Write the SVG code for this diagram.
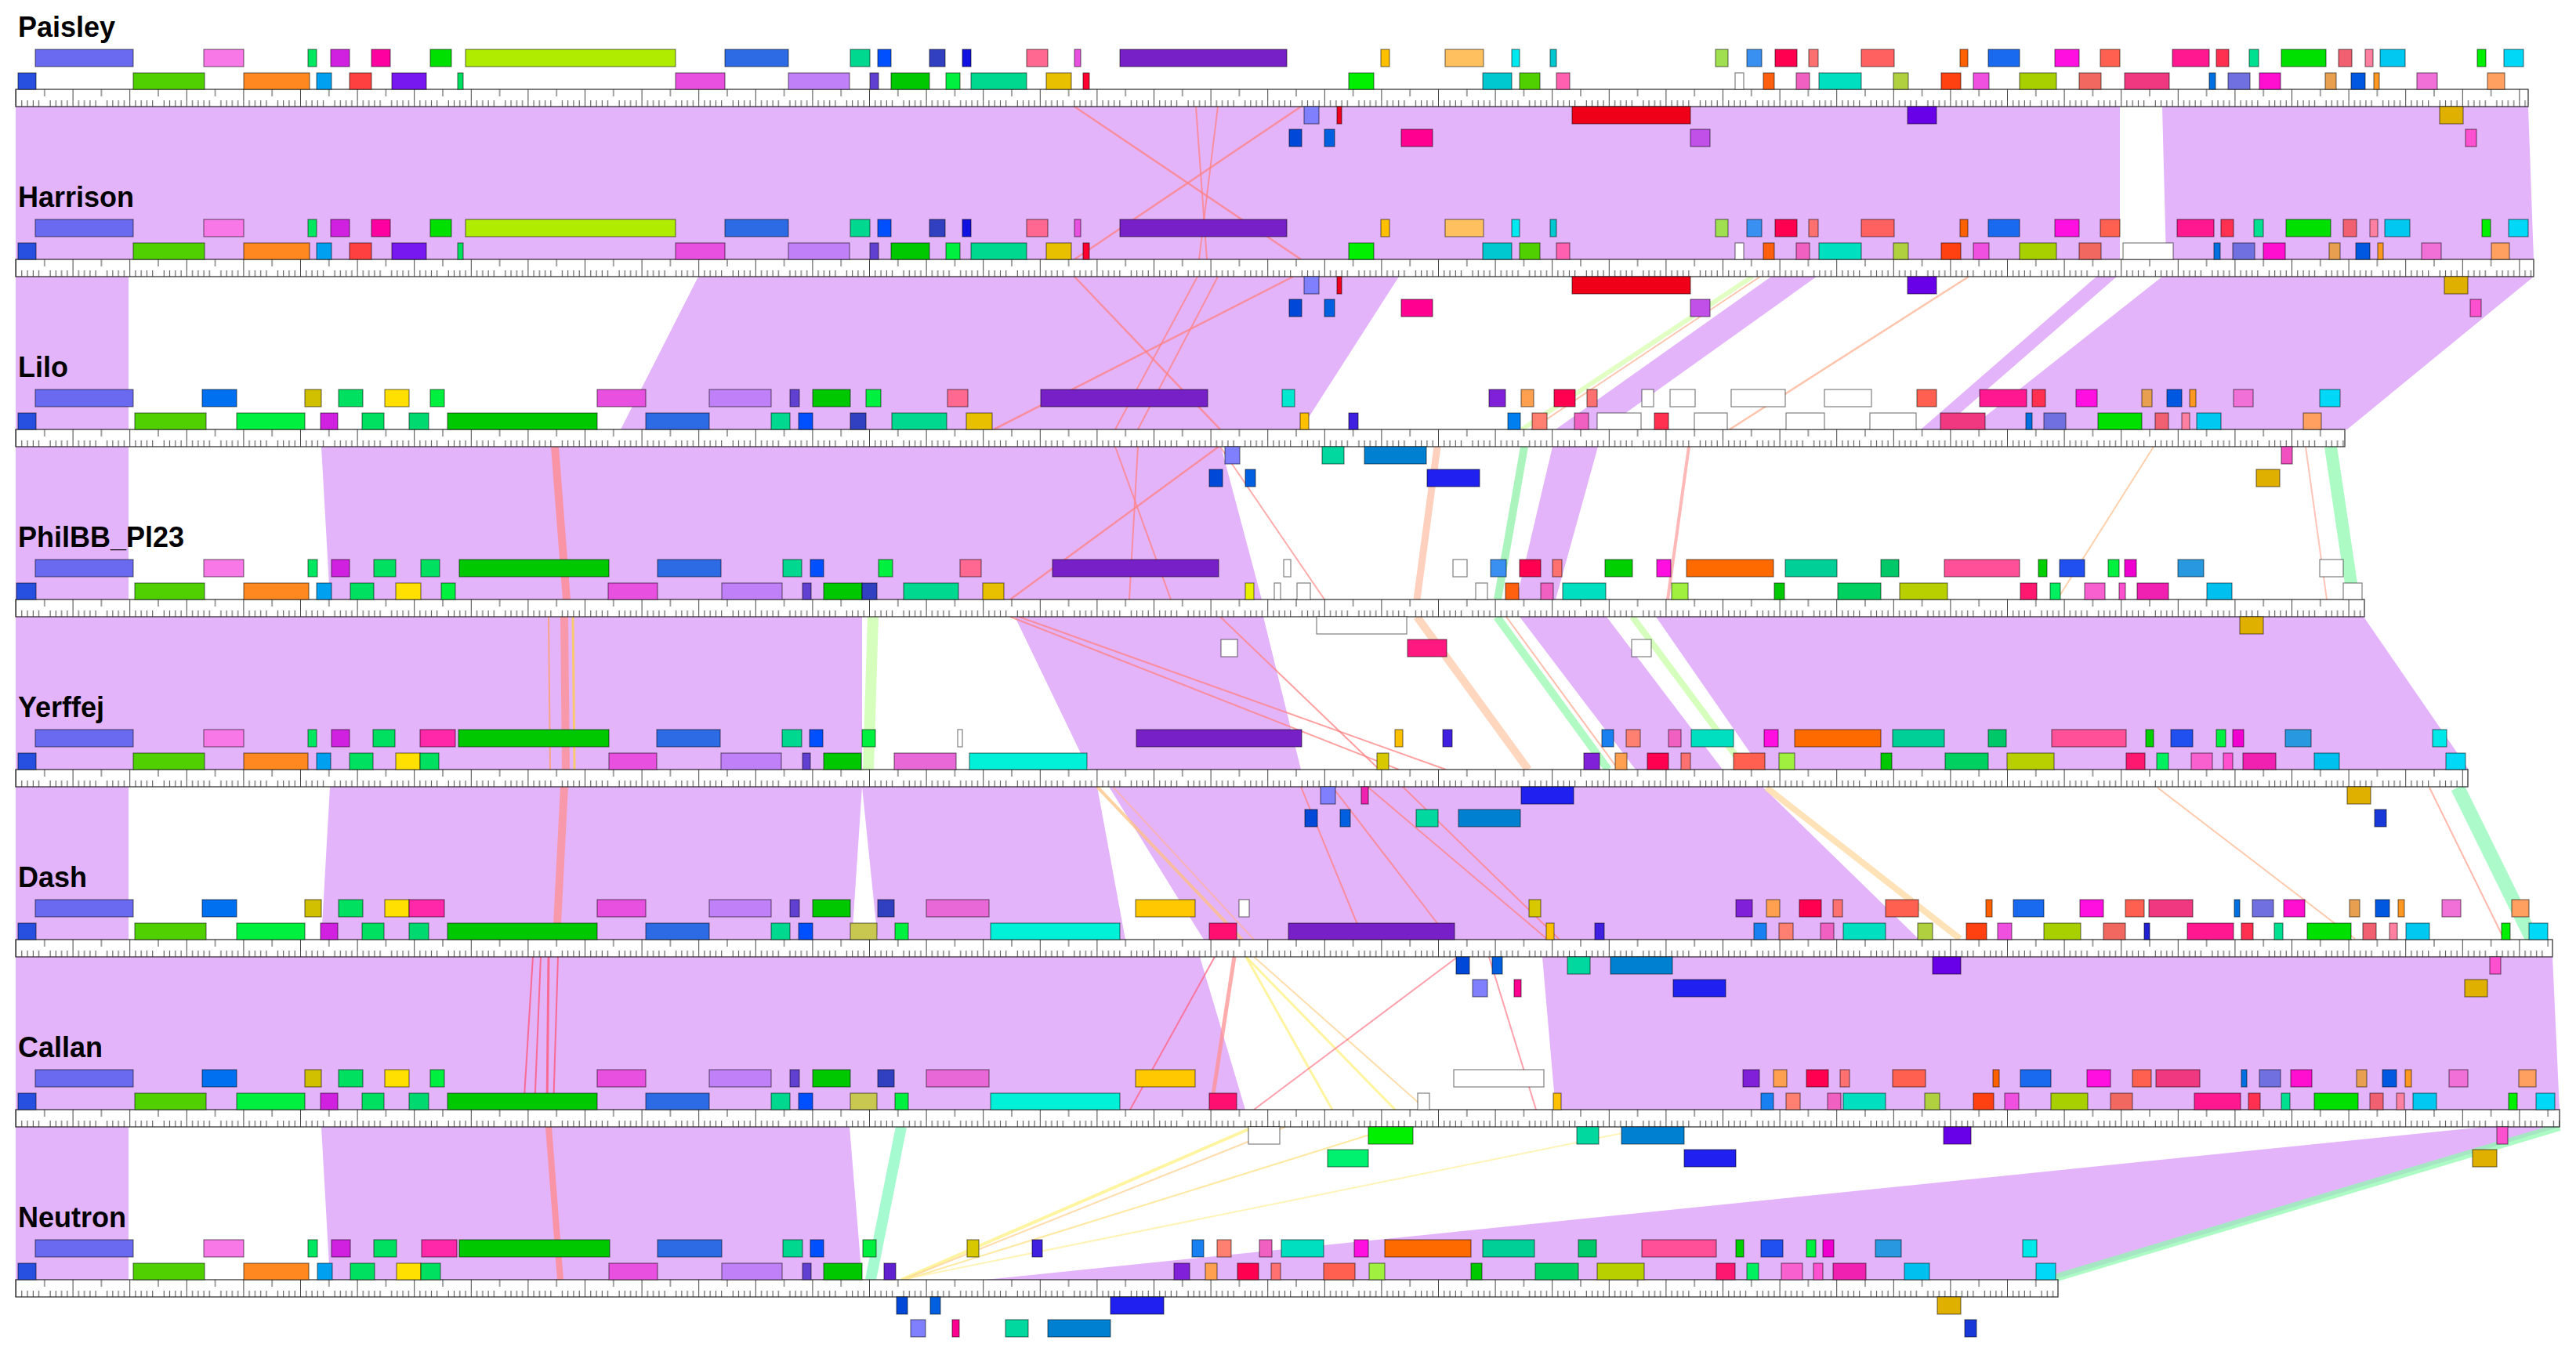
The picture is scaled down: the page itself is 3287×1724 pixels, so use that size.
<svg xmlns="http://www.w3.org/2000/svg" width="3287" height="1724" viewBox="0 0 3287 1724">
<style>
.lbl{font-family:"Liberation Sans",Arial,sans-serif;font-weight:bold;font-size:36px;fill:#000}
.gn rect{stroke:#000;stroke-opacity:.5;stroke-width:1.2}
.sim{fill:#E4B4FB}
.rul{fill:url(#tk);stroke:#000;stroke-width:2}
.rulbg{fill:#fff}
.cn line{fill:none;stroke-linecap:butt}
</style>
<defs>
<pattern id="tk" patternUnits="userSpaceOnUse" x="20" y="114" width="72.6" height="217">
<path d="M0.5,0V22M36.8,0V9M7.76,14V22M15.02,14V22M22.28,14V22M29.54,14V22M44.06,14V22M51.32,14V22M58.58,14V22M65.84,14V22" stroke="#444" stroke-width="1" fill="none"/>
</pattern>
</defs>
<rect width="3287" height="1724" fill="#fff"/>
<g id="connectors" class="cn">
<g id="sim1">
<polygon class="sim" points="20,136 2705,136 2705,331 20,331"/>
<polygon class="sim" points="2759,136 3226,136 3233,331 2764,331"/>
</g>
<g id="sim2">
<polygon class="sim" points="20,353 164,353 164,548 20,548"/>
<polygon class="sim" points="891,353 1785,353 1660,548 792,548"/>
<polygon class="sim" points="2260,353 2318,353 2045,548 1985,548"/>
<polygon class="sim" points="2675,353 2701,353 2477,548 2451,548"/>
<polygon class="sim" points="2759,353 3233,353 2995,548 2512,548"/>
</g>
<g id="sim3">
<polygon class="sim" points="20,570 164,570 164,765 20,765"/>
<polygon class="sim" points="410,570 1558,570 1610,765 421,765"/>
<polygon class="sim" points="1981,570 2039,570 1985,765 1935,765"/>
</g>
<g id="sim4">
<polygon class="sim" points="20,787 1100,787 1100,982 20,982"/>
<polygon class="sim" points="1295,787 1612,787 1660,982 1389,982"/>
<polygon class="sim" points="1939,787 2050,787 2198,982 2087,982"/>
<polygon class="sim" points="2113,787 3016,787 3150,982 2248,982"/>
</g>
<g id="sim5">
<polygon class="sim" points="20,1004 164,1004 164,1199 20,1199"/>
<polygon class="sim" points="421,1004 1100,1004 1087,1199 410,1199"/>
<polygon class="sim" points="1100,1004 1400,1004 1436,1199 1120,1199"/>
<polygon class="sim" points="1415,1004 2249,1004 2449,1199 1536,1199"/>
</g>
<g id="sim6">
<polygon class="sim" points="20,1221 1531,1221 1589,1416 20,1416"/>
<polygon class="sim" points="1968,1221 3257,1221 3266,1416 1985,1416"/>
</g>
<g id="sim7">
<polygon class="sim" points="20,1438 164,1438 164,1633 20,1633"/>
<polygon class="sim" points="410,1438 1084,1438 1100,1633 421,1633"/>
<polygon class="sim" points="3170,1438 3266,1438 2620,1633 1257,1633"/>
</g>
<g id="links" stroke-opacity="0.75">
<line x1="1371" y1="136" x2="1660" y2="331" stroke="#FF8080" stroke-width="2.5"/>
<line x1="1660" y1="136" x2="1371" y2="331" stroke="#FF8080" stroke-width="2.5"/>
<line x1="1526" y1="136" x2="1540" y2="331" stroke="#FF8080" stroke-width="2"/>
<line x1="1554" y1="136" x2="1530" y2="331" stroke="#FF8080" stroke-width="2"/>
<line x1="1371" y1="353" x2="1557" y2="548" stroke="#FF8080" stroke-width="2.5"/>
<line x1="1650" y1="353" x2="1268" y2="548" stroke="#FF8080" stroke-width="2.5"/>
<line x1="1528" y1="353" x2="1423" y2="548" stroke="#FF8080" stroke-width="2"/>
<line x1="1554" y1="353" x2="1452" y2="548" stroke="#FF8080" stroke-width="2"/>
<line x1="2236" y1="353" x2="1942" y2="548" stroke="#D8FFB0" stroke-width="6"/>
<line x1="2246" y1="353" x2="1954" y2="548" stroke="#FFB090" stroke-width="2"/>
<line x1="2512" y1="353" x2="2207" y2="548" stroke="#FFB090" stroke-width="2.5"/>
<line x1="708" y1="570" x2="723" y2="765" stroke="#FF8A8A" stroke-width="10"/>
<line x1="1423" y1="570" x2="1494" y2="765" stroke="#FF8080" stroke-width="2"/>
<line x1="1452" y1="570" x2="1441" y2="765" stroke="#FF8080" stroke-width="2"/>
<line x1="1555" y1="570" x2="1289" y2="765" stroke="#FF8080" stroke-width="2.5"/>
<line x1="1557" y1="570" x2="1690" y2="765" stroke="#FF9090" stroke-width="2"/>
<line x1="1834" y1="570" x2="1808" y2="765" stroke="#FFC0A8" stroke-width="9"/>
<line x1="1945" y1="570" x2="1911" y2="765" stroke="#90F0A8" stroke-width="10"/>
<line x1="2155" y1="570" x2="2128" y2="765" stroke="#FFA0A0" stroke-width="4"/>
<line x1="2748" y1="570" x2="2625" y2="765" stroke="#FFC090" stroke-width="2"/>
<line x1="2942" y1="570" x2="2969" y2="765" stroke="#FFB0A0" stroke-width="2"/>
<line x1="2974" y1="570" x2="3003" y2="765" stroke="#90F8B0" stroke-width="16"/>
<line x1="720" y1="787" x2="722" y2="982" stroke="#FF9090" stroke-width="10"/>
<line x1="700" y1="787" x2="702" y2="982" stroke="#FFA060" stroke-width="2"/>
<line x1="731" y1="787" x2="733" y2="982" stroke="#FFD040" stroke-width="3"/>
<line x1="1114" y1="787" x2="1108" y2="982" stroke="#C8FFA8" stroke-width="14"/>
<line x1="1289" y1="787" x2="1785" y2="982" stroke="#FF8080" stroke-width="2"/>
<line x1="1300" y1="787" x2="1845" y2="982" stroke="#FF8080" stroke-width="2"/>
<line x1="1557" y1="787" x2="1760" y2="982" stroke="#FF8080" stroke-width="2"/>
<line x1="1808" y1="787" x2="1950" y2="982" stroke="#FFC8A8" stroke-width="10"/>
<line x1="1910" y1="787" x2="2052" y2="982" stroke="#98F8B0" stroke-width="10"/>
<line x1="1922" y1="787" x2="2065" y2="982" stroke="#FFA890" stroke-width="2"/>
<line x1="2083" y1="787" x2="2228" y2="982" stroke="#C8FFA8" stroke-width="8"/>
<line x1="720" y1="1004" x2="710" y2="1199" stroke="#FF9090" stroke-width="10"/>
<line x1="1400" y1="1004" x2="1585" y2="1199" stroke="#FFC080" stroke-width="4"/>
<line x1="1420" y1="1004" x2="1600" y2="1199" stroke="#FFB0A0" stroke-width="2"/>
<line x1="1745" y1="1004" x2="1975" y2="1199" stroke="#FF8080" stroke-width="2"/>
<line x1="1700" y1="1004" x2="1850" y2="1199" stroke="#FF8080" stroke-width="2"/>
<line x1="1660" y1="1004" x2="1740" y2="1199" stroke="#FF8080" stroke-width="2"/>
<line x1="1790" y1="1004" x2="1990" y2="1199" stroke="#FF8080" stroke-width="2"/>
<line x1="2254" y1="1005" x2="2501" y2="1198" stroke="#FFD8A0" stroke-width="8"/>
<line x1="2753" y1="1005" x2="3005" y2="1198" stroke="#FFB890" stroke-width="2"/>
<line x1="3100" y1="1005" x2="3195" y2="1198" stroke="#FFA090" stroke-width="2"/>
<line x1="3136" y1="1005" x2="3231" y2="1198" stroke="#90F8B8" stroke-width="18"/>
<line x1="680" y1="1221" x2="668" y2="1416" stroke="#FF5070" stroke-width="2"/>
<line x1="690" y1="1221" x2="682" y2="1416" stroke="#FF5070" stroke-width="2"/>
<line x1="700" y1="1221" x2="698" y2="1416" stroke="#FF5070" stroke-width="3"/>
<line x1="712" y1="1221" x2="706" y2="1416" stroke="#FF5070" stroke-width="2"/>
<line x1="1550" y1="1221" x2="1442" y2="1416" stroke="#FF6080" stroke-width="2"/>
<line x1="1575" y1="1221" x2="1545" y2="1416" stroke="#FF9090" stroke-width="5"/>
<line x1="1590" y1="1221" x2="1700" y2="1416" stroke="#FFF080" stroke-width="3"/>
<line x1="1590" y1="1221" x2="1780" y2="1416" stroke="#FFF080" stroke-width="3"/>
<line x1="1600" y1="1221" x2="1820" y2="1416" stroke="#FFD090" stroke-width="2"/>
<line x1="1860" y1="1221" x2="1600" y2="1416" stroke="#FF8090" stroke-width="2"/>
<line x1="1900" y1="1221" x2="1960" y2="1416" stroke="#FF8090" stroke-width="2"/>
<line x1="700" y1="1438" x2="715" y2="1633" stroke="#FF8A8A" stroke-width="8"/>
<line x1="1150" y1="1438" x2="1111" y2="1633" stroke="#88F8C0" stroke-width="14"/>
<line x1="1600" y1="1438" x2="1150" y2="1633" stroke="#FFF080" stroke-width="4"/>
<line x1="1640" y1="1438" x2="1152" y2="1633" stroke="#FFD090" stroke-width="2"/>
<line x1="1780" y1="1438" x2="1155" y2="1633" stroke="#FFE080" stroke-width="2"/>
<line x1="2110" y1="1438" x2="1150" y2="1633" stroke="#FFF0A0" stroke-width="2"/>
<line x1="3266" y1="1438" x2="2615" y2="1633" stroke="#90F8B0" stroke-width="10"/>
</g>
</g>
<g id="Paisley" class="gn">
<text class="lbl" x="23" y="47">Paisley</text>
<rect class="rulbg" x="20" y="114" width="3206" height="22"/><rect class="rul" x="20" y="114" width="3206" height="22"/>
<g transform="translate(0,63)">
<rect x="45" width="125" height="22" fill="#6A6AF0"/><rect x="260" width="51" height="22" fill="#F878E8"/><rect x="393" width="11" height="22" fill="#00E860"/><rect x="422" width="24" height="22" fill="#D020E0"/><rect x="474" width="24" height="22" fill="#FF00A0"/><rect x="549" width="27" height="22" fill="#00E000"/><rect x="594" width="268" height="22" fill="#B0EC00"/><rect x="925" width="81" height="22" fill="#2D6BE5"/><rect x="1085" width="25" height="22" fill="#00D890"/><rect x="1120" width="17" height="22" fill="#0050FF"/><rect x="1186" width="20" height="22" fill="#3040C0"/><rect x="1228" width="11" height="22" fill="#1010E0"/><rect x="1310" width="27" height="22" fill="#FF6890"/><rect x="1371" width="8" height="22" fill="#E850E0"/><rect x="1429" width="213" height="22" fill="#7820C8"/><rect x="1762" width="11" height="22" fill="#FFC000"/><rect x="1844" width="49" height="22" fill="#FFC060"/><rect x="1929" width="10" height="22" fill="#00E8F0"/><rect x="1978" width="8" height="22" fill="#00C8D0"/><rect x="2189" width="16" height="22" fill="#A0E050"/><rect x="2229" width="19" height="22" fill="#3A90F0"/><rect x="2265" width="28" height="22" fill="#FF0050"/><rect x="2308" width="12" height="22" fill="#FF7070"/><rect x="2375" width="42" height="22" fill="#FF6060"/><rect x="2501" width="10" height="22" fill="#FF6000"/><rect x="2537" width="40" height="22" fill="#1A6AF0"/><rect x="2622" width="31" height="22" fill="#FF10E0"/><rect x="2680" width="25" height="22" fill="#FF6050"/><rect x="2772" width="47" height="22" fill="#FF1890"/><rect x="2828" width="16" height="22" fill="#FF3050"/><rect x="2870" width="12" height="22" fill="#00E090"/><rect x="2911" width="57" height="22" fill="#00E000"/><rect x="2984" width="17" height="22" fill="#F06070"/><rect x="3018" width="10" height="22" fill="#FF80A0"/><rect x="3037" width="32" height="22" fill="#00C8F0"/><rect x="3161" width="11" height="22" fill="#00F000"/><rect x="3195" width="25" height="22" fill="#00D8F8"/>
</g>
<g transform="translate(0,93)">
<rect x="23" width="23" height="21" fill="#2850E0"/><rect x="170" width="91" height="21" fill="#50D000"/><rect x="311" width="84" height="21" fill="#FF8820"/><rect x="404" width="19" height="21" fill="#00A0F0"/><rect x="446" width="28" height="21" fill="#FF4040"/><rect x="500" width="44" height="21" fill="#7818F0"/><rect x="584" width="7" height="21" fill="#00E060"/><rect x="862" width="63" height="21" fill="#E850E0"/><rect x="1006" width="78" height="21" fill="#C080F8"/><rect x="1110" width="11" height="21" fill="#6040D0"/><rect x="1137" width="49" height="21" fill="#00C800"/><rect x="1207" width="18" height="21" fill="#00F040"/><rect x="1239" width="71" height="21" fill="#00D890"/><rect x="1335" width="32" height="21" fill="#E8C000"/><rect x="1382" width="8" height="21" fill="#FF0030"/><rect x="1721" width="32" height="21" fill="#00F000"/><rect x="1892" width="37" height="21" fill="#00C8D0"/><rect x="1939" width="26" height="21" fill="#50D000"/><rect x="1986" width="17" height="21" fill="#FF60B0"/><rect x="2214" width="11" height="21" fill="#FFFFFF"/><rect x="2250" width="14" height="21" fill="#FF6010"/><rect x="2292" width="17" height="21" fill="#F060C0"/><rect x="2321" width="54" height="21" fill="#00E0C0"/><rect x="2416" width="19" height="21" fill="#B0D040"/><rect x="2477" width="25" height="21" fill="#FF4010"/><rect x="2518" width="20" height="21" fill="#F050E0"/><rect x="2577" width="47" height="21" fill="#A8D000"/><rect x="2653" width="28" height="21" fill="#F06860"/><rect x="2711" width="57" height="21" fill="#F03880"/><rect x="2819" width="8" height="21" fill="#0070E0"/><rect x="2843" width="28" height="21" fill="#7070E0"/><rect x="2883" width="27" height="21" fill="#FF10D0"/><rect x="2967" width="14" height="21" fill="#E8A050"/><rect x="3000" width="18" height="21" fill="#0058E0"/><rect x="3029" width="7" height="21" fill="#FF9820"/><rect x="3084" width="26" height="21" fill="#F070D8"/><rect x="3174" width="22" height="21" fill="#FFA060"/>
</g>
<g transform="translate(0,136)">
<rect x="1664" width="19" height="22" fill="#8080FF"/><rect x="1706" width="6" height="22" fill="#F00020"/><rect x="2006" width="151" height="22" fill="#F00018"/><rect x="2434" width="37" height="22" fill="#6800E8"/><rect x="3113" width="30" height="22" fill="#E0B000"/>
</g>
<g transform="translate(0,165)">
<rect x="1645" width="16" height="22" fill="#0048D8"/><rect x="1690" width="13" height="22" fill="#0060E0"/><rect x="1788" width="40" height="22" fill="#FF0090"/><rect x="2157" width="25" height="22" fill="#C050E8"/><rect x="3146" width="14" height="22" fill="#FF50D0"/>
</g>
</g>
<g id="Harrison" class="gn">
<text class="lbl" x="23" y="264">Harrison</text>
<rect class="rulbg" x="20" y="331" width="3213" height="22"/><rect class="rul" x="20" y="331" width="3213" height="22"/>
<g transform="translate(0,280)">
<rect x="45" width="125" height="22" fill="#6A6AF0"/><rect x="260" width="51" height="22" fill="#F878E8"/><rect x="393" width="11" height="22" fill="#00E860"/><rect x="422" width="24" height="22" fill="#D020E0"/><rect x="474" width="24" height="22" fill="#FF00A0"/><rect x="549" width="27" height="22" fill="#00E000"/><rect x="594" width="268" height="22" fill="#B0EC00"/><rect x="925" width="81" height="22" fill="#2D6BE5"/><rect x="1085" width="25" height="22" fill="#00D890"/><rect x="1120" width="17" height="22" fill="#0050FF"/><rect x="1186" width="20" height="22" fill="#3040C0"/><rect x="1228" width="11" height="22" fill="#1010E0"/><rect x="1310" width="27" height="22" fill="#FF6890"/><rect x="1371" width="8" height="22" fill="#E850E0"/><rect x="1429" width="213" height="22" fill="#7820C8"/><rect x="1762" width="11" height="22" fill="#FFC000"/><rect x="1844" width="49" height="22" fill="#FFC060"/><rect x="1929" width="10" height="22" fill="#00E8F0"/><rect x="1978" width="8" height="22" fill="#00C8D0"/><rect x="2189" width="16" height="22" fill="#A0E050"/><rect x="2229" width="19" height="22" fill="#3A90F0"/><rect x="2265" width="28" height="22" fill="#FF0050"/><rect x="2308" width="12" height="22" fill="#FF7070"/><rect x="2375" width="42" height="22" fill="#FF6060"/><rect x="2501" width="10" height="22" fill="#FF6000"/><rect x="2537" width="40" height="22" fill="#1A6AF0"/><rect x="2622" width="31" height="22" fill="#FF10E0"/><rect x="2680" width="25" height="22" fill="#FF6050"/><rect x="2778" width="47" height="22" fill="#FF1890"/><rect x="2834" width="16" height="22" fill="#FF3050"/><rect x="2876" width="12" height="22" fill="#00E090"/><rect x="2917" width="57" height="22" fill="#00E000"/><rect x="2990" width="17" height="22" fill="#F06070"/><rect x="3024" width="10" height="22" fill="#FF80A0"/><rect x="3043" width="32" height="22" fill="#00C8F0"/><rect x="3167" width="11" height="22" fill="#00F000"/><rect x="3201" width="25" height="22" fill="#00D8F8"/>
</g>
<g transform="translate(0,310)">
<rect x="23" width="23" height="21" fill="#2850E0"/><rect x="170" width="91" height="21" fill="#50D000"/><rect x="311" width="84" height="21" fill="#FF8820"/><rect x="404" width="19" height="21" fill="#00A0F0"/><rect x="446" width="28" height="21" fill="#FF4040"/><rect x="500" width="44" height="21" fill="#7818F0"/><rect x="584" width="7" height="21" fill="#00E060"/><rect x="862" width="63" height="21" fill="#E850E0"/><rect x="1006" width="78" height="21" fill="#C080F8"/><rect x="1110" width="11" height="21" fill="#6040D0"/><rect x="1137" width="49" height="21" fill="#00C800"/><rect x="1207" width="18" height="21" fill="#00F040"/><rect x="1239" width="71" height="21" fill="#00D890"/><rect x="1335" width="32" height="21" fill="#E8C000"/><rect x="1382" width="8" height="21" fill="#FF0030"/><rect x="1721" width="32" height="21" fill="#00F000"/><rect x="1892" width="37" height="21" fill="#00C8D0"/><rect x="1939" width="26" height="21" fill="#50D000"/><rect x="1986" width="17" height="21" fill="#FF60B0"/><rect x="2214" width="11" height="21" fill="#FFFFFF"/><rect x="2250" width="14" height="21" fill="#FF6010"/><rect x="2292" width="17" height="21" fill="#F060C0"/><rect x="2321" width="54" height="21" fill="#00E0C0"/><rect x="2416" width="19" height="21" fill="#B0D040"/><rect x="2477" width="25" height="21" fill="#FF4010"/><rect x="2518" width="20" height="21" fill="#F050E0"/><rect x="2577" width="47" height="21" fill="#A8D000"/><rect x="2653" width="28" height="21" fill="#F06860"/><rect x="2709" width="64" height="21" fill="#FFFFFF"/><rect x="2825" width="8" height="21" fill="#0070E0"/><rect x="2849" width="28" height="21" fill="#7070E0"/><rect x="2888" width="28" height="21" fill="#FF10D0"/><rect x="2972" width="14" height="21" fill="#E8A050"/><rect x="3006" width="18" height="21" fill="#0058E0"/><rect x="3034" width="7" height="21" fill="#FF9820"/><rect x="3090" width="25" height="21" fill="#F070D8"/><rect x="3179" width="23" height="21" fill="#FFA060"/>
</g>
<g transform="translate(0,353)">
<rect x="1664" width="19" height="22" fill="#8080FF"/><rect x="1706" width="6" height="22" fill="#F00020"/><rect x="2006" width="151" height="22" fill="#F00018"/><rect x="2434" width="37" height="22" fill="#6800E8"/><rect x="3119" width="30" height="22" fill="#E0B000"/>
</g>
<g transform="translate(0,382)">
<rect x="1645" width="16" height="22" fill="#0048D8"/><rect x="1690" width="13" height="22" fill="#0060E0"/><rect x="1788" width="40" height="22" fill="#FF0090"/><rect x="2157" width="25" height="22" fill="#C050E8"/><rect x="3152" width="14" height="22" fill="#FF50D0"/>
</g>
</g>
<g id="Lilo" class="gn">
<text class="lbl" x="23" y="481">Lilo</text>
<rect class="rulbg" x="20" y="548" width="2972" height="22"/><rect class="rul" x="20" y="548" width="2972" height="22"/>
<g transform="translate(0,497)">
<rect x="45" width="125" height="22" fill="#6A6AF0"/><rect x="258" width="44" height="22" fill="#0070F0"/><rect x="389" width="21" height="22" fill="#D0C000"/><rect x="432" width="31" height="22" fill="#00E060"/><rect x="491" width="31" height="22" fill="#FFE000"/><rect x="549" width="18" height="22" fill="#00F040"/><rect x="762" width="62" height="22" fill="#E850E0"/><rect x="905" width="79" height="22" fill="#C080F8"/><rect x="1008" width="12" height="22" fill="#6040D0"/><rect x="1037" width="48" height="22" fill="#00C800"/><rect x="1105" width="19" height="22" fill="#00F040"/><rect x="1209" width="26" height="22" fill="#FF6890"/><rect x="1328" width="213" height="22" fill="#7820C8"/><rect x="1636" width="16" height="22" fill="#00E8D0"/><rect x="1900" width="21" height="22" fill="#8020D8"/><rect x="1941" width="16" height="22" fill="#FFA050"/><rect x="1983" width="27" height="22" fill="#FF0050"/><rect x="2025" width="13" height="22" fill="#FF7070"/><rect x="2095" width="15" height="22" fill="#FFFFFF"/><rect x="2131" width="32" height="22" fill="#FFFFFF"/><rect x="2209" width="69" height="22" fill="#FFFFFF"/><rect x="2328" width="60" height="22" fill="#FFFFFF"/><rect x="2446" width="25" height="22" fill="#FF6050"/><rect x="2526" width="60" height="22" fill="#FF1890"/><rect x="2593" width="17" height="22" fill="#FF3050"/><rect x="2649" width="27" height="22" fill="#FF10E0"/><rect x="2733" width="13" height="22" fill="#E8A050"/><rect x="2765" width="19" height="22" fill="#0058E0"/><rect x="2794" width="8" height="22" fill="#FF9820"/><rect x="2850" width="25" height="22" fill="#F070D8"/><rect x="2960" width="26" height="22" fill="#00D8F8"/>
</g>
<g transform="translate(0,527)">
<rect x="23" width="23" height="21" fill="#2850E0"/><rect x="172" width="91" height="21" fill="#50D000"/><rect x="302" width="87" height="21" fill="#00F040"/><rect x="409" width="22" height="21" fill="#D020E0"/><rect x="462" width="28" height="21" fill="#00E060"/><rect x="522" width="25" height="21" fill="#00D870"/><rect x="571" width="191" height="21" fill="#00C800"/><rect x="824" width="81" height="21" fill="#2D6BE5"/><rect x="984" width="24" height="21" fill="#00D890"/><rect x="1019" width="18" height="21" fill="#0050FF"/><rect x="1085" width="20" height="21" fill="#3040C0"/><rect x="1138" width="70" height="21" fill="#00D890"/><rect x="1233" width="33" height="21" fill="#E8C000"/><rect x="1659" width="11" height="21" fill="#FFC000"/><rect x="1721" width="12" height="21" fill="#4020E0"/><rect x="1924" width="16" height="21" fill="#0080F0"/><rect x="1955" width="19" height="21" fill="#FF8070"/><rect x="2009" width="18" height="21" fill="#F060C0"/><rect x="2038" width="56" height="21" fill="#FFFFFF"/><rect x="2111" width="18" height="21" fill="#FF3050"/><rect x="2162" width="42" height="21" fill="#FFFFFF"/><rect x="2279" width="49" height="21" fill="#FFFFFF"/><rect x="2386" width="59" height="21" fill="#FFFFFF"/><rect x="2476" width="57" height="21" fill="#F03880"/><rect x="2585" width="8" height="21" fill="#0070E0"/><rect x="2608" width="28" height="21" fill="#7070E0"/><rect x="2677" width="56" height="21" fill="#00E000"/><rect x="2750" width="17" height="21" fill="#F06070"/><rect x="2784" width="10" height="21" fill="#FF80A0"/><rect x="2803" width="31" height="21" fill="#00C8F0"/><rect x="2939" width="23" height="21" fill="#FFA060"/>
</g>
<g transform="translate(0,570)">
<rect x="1563" width="19" height="22" fill="#8080FF"/><rect x="1687" width="28" height="22" fill="#00D8A0"/><rect x="1741" width="79" height="22" fill="#0080D0"/><rect x="2911" width="14" height="22" fill="#F050C0"/>
</g>
<g transform="translate(0,599)">
<rect x="1543" width="17" height="22" fill="#0048D8"/><rect x="1589" width="13" height="22" fill="#0060E0"/><rect x="1821" width="67" height="22" fill="#2020F0"/><rect x="2879" width="30" height="22" fill="#E0B000"/>
</g>
</g>
<g id="PhilBB_Pl23" class="gn">
<text class="lbl" x="23" y="698">PhilBB_Pl23</text>
<rect class="rulbg" x="20" y="765" width="2997" height="22"/><rect class="rul" x="20" y="765" width="2997" height="22"/>
<g transform="translate(0,714)">
<rect x="45" width="125" height="22" fill="#6A6AF0"/><rect x="260" width="51" height="22" fill="#F878E8"/><rect x="393" width="12" height="22" fill="#00E860"/><rect x="423" width="23" height="22" fill="#D020E0"/><rect x="477" width="28" height="22" fill="#00E060"/><rect x="537" width="24" height="22" fill="#00E060"/><rect x="586" width="191" height="22" fill="#00C800"/><rect x="839" width="81" height="22" fill="#2D6BE5"/><rect x="999" width="24" height="22" fill="#00D890"/><rect x="1034" width="17" height="22" fill="#0050FF"/><rect x="1121" width="18" height="22" fill="#00F040"/><rect x="1225" width="27" height="22" fill="#FF6890"/><rect x="1343" width="212" height="22" fill="#7820C8"/><rect x="1638" width="9" height="22" fill="#FFFFFF"/><rect x="1854" width="18" height="22" fill="#FFFFFF"/><rect x="1902" width="20" height="22" fill="#3A90F0"/><rect x="1939" width="27" height="22" fill="#FF0050"/><rect x="1981" width="12" height="22" fill="#FF7070"/><rect x="2048" width="35" height="22" fill="#00D000"/><rect x="2114" width="18" height="22" fill="#FF10E0"/><rect x="2152" width="111" height="22" fill="#FF6A00"/><rect x="2278" width="66" height="22" fill="#00D098"/><rect x="2400" width="23" height="22" fill="#00C868"/><rect x="2481" width="96" height="22" fill="#FF5098"/><rect x="2601" width="11" height="22" fill="#00D000"/><rect x="2628" width="32" height="22" fill="#2050F0"/><rect x="2690" width="14" height="22" fill="#00F040"/><rect x="2711" width="15" height="22" fill="#F000D0"/><rect x="2779" width="33" height="22" fill="#2898E0"/><rect x="2960" width="30" height="22" fill="#FFFFFF"/>
</g>
<g transform="translate(0,744)">
<rect x="21" width="25" height="21" fill="#2850E0"/><rect x="172" width="89" height="21" fill="#50D000"/><rect x="311" width="83" height="21" fill="#FF8820"/><rect x="404" width="19" height="21" fill="#00A0F0"/><rect x="447" width="30" height="21" fill="#00E060"/><rect x="505" width="32" height="21" fill="#FFE000"/><rect x="563" width="18" height="21" fill="#00F040"/><rect x="776" width="63" height="21" fill="#E850E0"/><rect x="921" width="77" height="21" fill="#C080F8"/><rect x="1024" width="11" height="21" fill="#6040D0"/><rect x="1051" width="49" height="21" fill="#00C800"/><rect x="1100" width="19" height="21" fill="#3040C0"/><rect x="1153" width="70" height="21" fill="#00D890"/><rect x="1254" width="27" height="21" fill="#E8C000"/><rect x="1589" width="11" height="21" fill="#E8F000"/><rect x="1626" width="8" height="21" fill="#FFFFFF"/><rect x="1655" width="17" height="21" fill="#FFFFFF"/><rect x="1883" width="15" height="21" fill="#FFFFFF"/><rect x="1921" width="17" height="21" fill="#FF6010"/><rect x="1966" width="16" height="21" fill="#F060C0"/><rect x="1994" width="55" height="21" fill="#00E0C0"/><rect x="2133" width="21" height="21" fill="#A0F040"/><rect x="2264" width="13" height="21" fill="#00C800"/><rect x="2345" width="55" height="21" fill="#00D060"/><rect x="2424" width="61" height="21" fill="#B8D000"/><rect x="2578" width="21" height="21" fill="#FF1870"/><rect x="2616" width="13" height="21" fill="#00F060"/><rect x="2660" width="26" height="21" fill="#F860D0"/><rect x="2704" width="8" height="21" fill="#FF50D0"/><rect x="2727" width="40" height="21" fill="#F020B0"/><rect x="2816" width="32" height="21" fill="#00C0F0"/><rect x="2990" width="24" height="21" fill="#FFFFFF"/>
</g>
<g transform="translate(0,787)">
<rect x="1680" width="115" height="22" fill="#FFFFFF"/><rect x="2858" width="30" height="22" fill="#E0B000"/>
</g>
<g transform="translate(0,816)">
<rect x="1558" width="21" height="22" fill="#FFFFFF"/><rect x="1796" width="50" height="22" fill="#FF1880"/><rect x="2082" width="25" height="22" fill="#FFFFFF"/>
</g>
</g>
<g id="Yerffej" class="gn">
<text class="lbl" x="23" y="915">Yerffej</text>
<rect class="rulbg" x="20" y="982" width="3129" height="22"/><rect class="rul" x="20" y="982" width="3129" height="22"/>
<g transform="translate(0,931)">
<rect x="45" width="125" height="22" fill="#6A6AF0"/><rect x="260" width="51" height="22" fill="#F878E8"/><rect x="393" width="11" height="22" fill="#00E860"/><rect x="423" width="23" height="22" fill="#D020E0"/><rect x="476" width="28" height="22" fill="#00E060"/><rect x="536" width="45" height="22" fill="#FF28A8"/><rect x="585" width="192" height="22" fill="#00C800"/><rect x="838" width="81" height="22" fill="#2D6BE5"/><rect x="998" width="25" height="22" fill="#00D890"/><rect x="1033" width="17" height="22" fill="#0050FF"/><rect x="1100" width="17" height="22" fill="#00F040"/><rect x="1222" width="6" height="22" fill="#FFFFFF"/><rect x="1450" width="211" height="22" fill="#7820C8"/><rect x="1780" width="10" height="22" fill="#FFC000"/><rect x="1841" width="12" height="22" fill="#4020E0"/><rect x="2044" width="15" height="22" fill="#1880F0"/><rect x="2075" width="18" height="22" fill="#FF8070"/><rect x="2129" width="16" height="22" fill="#F060C0"/><rect x="2158" width="54" height="22" fill="#00E0C0"/><rect x="2251" width="18" height="22" fill="#FF10E0"/><rect x="2290" width="110" height="22" fill="#FF6A00"/><rect x="2415" width="66" height="22" fill="#00D098"/><rect x="2537" width="23" height="22" fill="#00C868"/><rect x="2618" width="95" height="22" fill="#FF5098"/><rect x="2738" width="10" height="22" fill="#00D000"/><rect x="2770" width="28" height="22" fill="#2050F0"/><rect x="2828" width="12" height="22" fill="#00F040"/><rect x="2849" width="14" height="22" fill="#F000D0"/><rect x="2916" width="33" height="22" fill="#2898E0"/><rect x="3104" width="18" height="22" fill="#00E8E8"/>
</g>
<g transform="translate(0,961)">
<rect x="23" width="23" height="21" fill="#2850E0"/><rect x="170" width="91" height="21" fill="#50D000"/><rect x="311" width="82" height="21" fill="#FF8820"/><rect x="404" width="18" height="21" fill="#00A0F0"/><rect x="446" width="30" height="21" fill="#00E060"/><rect x="505" width="31" height="21" fill="#FFE000"/><rect x="536" width="24" height="21" fill="#00E060"/><rect x="777" width="61" height="21" fill="#E850E0"/><rect x="920" width="77" height="21" fill="#C080F8"/><rect x="1024" width="10" height="21" fill="#6040D0"/><rect x="1051" width="48" height="21" fill="#00C800"/><rect x="1141" width="79" height="21" fill="#E868D8"/><rect x="1237" width="150" height="21" fill="#00F0D8"/><rect x="1757" width="15" height="21" fill="#D8C800"/><rect x="2021" width="20" height="21" fill="#8020D8"/><rect x="2061" width="15" height="21" fill="#FFA050"/><rect x="2102" width="27" height="21" fill="#FF0050"/><rect x="2145" width="12" height="21" fill="#FF7070"/><rect x="2212" width="40" height="21" fill="#FF6050"/><rect x="2270" width="20" height="21" fill="#A0F040"/><rect x="2400" width="14" height="21" fill="#00C800"/><rect x="2482" width="55" height="21" fill="#00D060"/><rect x="2561" width="60" height="21" fill="#B8D000"/><rect x="2713" width="24" height="21" fill="#FF1870"/><rect x="2752" width="15" height="21" fill="#00F060"/><rect x="2796" width="27" height="21" fill="#F860D0"/><rect x="2837" width="12" height="21" fill="#FF50D0"/><rect x="2862" width="42" height="21" fill="#F020B0"/><rect x="2953" width="32" height="21" fill="#00C0F0"/><rect x="3121" width="25" height="21" fill="#00D8F8"/>
</g>
<g transform="translate(0,1004)">
<rect x="1685" width="19" height="22" fill="#8080FF"/><rect x="1737" width="9" height="22" fill="#F020B0"/><rect x="1941" width="67" height="22" fill="#2020F0"/><rect x="2995" width="30" height="22" fill="#E0B000"/>
</g>
<g transform="translate(0,1033)">
<rect x="1665" width="16" height="22" fill="#0048D8"/><rect x="1710" width="13" height="22" fill="#0060E0"/><rect x="1807" width="28" height="22" fill="#00D8A0"/><rect x="1861" width="79" height="22" fill="#0080D0"/><rect x="3030" width="15" height="22" fill="#1838D8"/>
</g>
</g>
<g id="Dash" class="gn">
<text class="lbl" x="23" y="1132">Dash</text>
<rect class="rulbg" x="20" y="1199" width="3237" height="22"/><rect class="rul" x="20" y="1199" width="3237" height="22"/>
<g transform="translate(0,1148)">
<rect x="45" width="125" height="22" fill="#6A6AF0"/><rect x="258" width="44" height="22" fill="#0070F0"/><rect x="389" width="21" height="22" fill="#D0C000"/><rect x="432" width="31" height="22" fill="#00E060"/><rect x="491" width="31" height="22" fill="#FFE000"/><rect x="522" width="45" height="22" fill="#FF28A8"/><rect x="762" width="62" height="22" fill="#E850E0"/><rect x="905" width="79" height="22" fill="#C080F8"/><rect x="1008" width="12" height="22" fill="#6040D0"/><rect x="1037" width="48" height="22" fill="#00C800"/><rect x="1120" width="21" height="22" fill="#3040C0"/><rect x="1182" width="80" height="22" fill="#E868D8"/><rect x="1449" width="76" height="22" fill="#FFC800"/><rect x="1581" width="13" height="22" fill="#FFFFFF"/><rect x="1951" width="15" height="22" fill="#D8C800"/><rect x="2215" width="21" height="22" fill="#8020D8"/><rect x="2254" width="17" height="22" fill="#FFA050"/><rect x="2296" width="28" height="22" fill="#FF0050"/><rect x="2339" width="12" height="22" fill="#FF7070"/><rect x="2406" width="42" height="22" fill="#FF6050"/><rect x="2534" width="8" height="22" fill="#FF6000"/><rect x="2569" width="39" height="22" fill="#1A6AF0"/><rect x="2654" width="30" height="22" fill="#FF10E0"/><rect x="2712" width="24" height="22" fill="#FF6050"/><rect x="2742" width="56" height="22" fill="#F03880"/><rect x="2851" width="7" height="22" fill="#0070E0"/><rect x="2874" width="27" height="22" fill="#7070E0"/><rect x="2914" width="27" height="22" fill="#FF10D0"/><rect x="2998" width="13" height="22" fill="#E8A050"/><rect x="3031" width="18" height="22" fill="#0058E0"/><rect x="3060" width="8" height="22" fill="#FF9820"/><rect x="3116" width="24" height="22" fill="#F070D8"/><rect x="3205" width="22" height="22" fill="#FFA060"/>
</g>
<g transform="translate(0,1178)">
<rect x="23" width="23" height="21" fill="#2850E0"/><rect x="172" width="91" height="21" fill="#50D000"/><rect x="302" width="87" height="21" fill="#00F040"/><rect x="409" width="22" height="21" fill="#D020E0"/><rect x="462" width="28" height="21" fill="#00E060"/><rect x="522" width="25" height="21" fill="#00D870"/><rect x="571" width="191" height="21" fill="#00C800"/><rect x="824" width="81" height="21" fill="#2D6BE5"/><rect x="984" width="24" height="21" fill="#00D890"/><rect x="1019" width="18" height="21" fill="#0050FF"/><rect x="1085" width="34" height="21" fill="#C8C850"/><rect x="1142" width="17" height="21" fill="#00F040"/><rect x="1264" width="165" height="21" fill="#00F0D8"/><rect x="1543" width="35" height="21" fill="#FF1070"/><rect x="1644" width="212" height="21" fill="#7820C8"/><rect x="1973" width="10" height="21" fill="#FFC000"/><rect x="2035" width="12" height="21" fill="#4020E0"/><rect x="2238" width="16" height="21" fill="#1880F0"/><rect x="2270" width="18" height="21" fill="#FF8070"/><rect x="2323" width="17" height="21" fill="#F060C0"/><rect x="2352" width="54" height="21" fill="#00E0C0"/><rect x="2447" width="19" height="21" fill="#B0D040"/><rect x="2509" width="26" height="21" fill="#FF4010"/><rect x="2549" width="18" height="21" fill="#F050E0"/><rect x="2608" width="47" height="21" fill="#A8D000"/><rect x="2684" width="28" height="21" fill="#F06860"/><rect x="2736" width="7" height="21" fill="#2020D0"/><rect x="2791" width="59" height="21" fill="#FF1890"/><rect x="2860" width="15" height="21" fill="#FF3050"/><rect x="2902" width="11" height="21" fill="#00E090"/><rect x="2944" width="56" height="21" fill="#00E000"/><rect x="3015" width="17" height="21" fill="#F06070"/><rect x="3049" width="10" height="21" fill="#FF80A0"/><rect x="3070" width="30" height="21" fill="#00C8F0"/><rect x="3192" width="11" height="21" fill="#00F000"/><rect x="3227" width="24" height="21" fill="#00D8F8"/>
</g>
<g transform="translate(0,1221)">
<rect x="1858" width="17" height="22" fill="#0048D8"/><rect x="1904" width="13" height="22" fill="#0060E0"/><rect x="2000" width="29" height="22" fill="#00D8A0"/><rect x="2055" width="79" height="22" fill="#0080D0"/><rect x="2466" width="36" height="22" fill="#6800E8"/><rect x="3177" width="14" height="22" fill="#FF50D0"/>
</g>
<g transform="translate(0,1250)">
<rect x="1879" width="19" height="22" fill="#8080FF"/><rect x="1932" width="9" height="22" fill="#FF0090"/><rect x="2135" width="67" height="22" fill="#2020F0"/><rect x="3145" width="29" height="22" fill="#E0B000"/>
</g>
</g>
<g id="Callan" class="gn">
<text class="lbl" x="23" y="1349">Callan</text>
<rect class="rulbg" x="20" y="1416" width="3246" height="22"/><rect class="rul" x="20" y="1416" width="3246" height="22"/>
<g transform="translate(0,1365)">
<rect x="45" width="125" height="22" fill="#6A6AF0"/><rect x="258" width="44" height="22" fill="#0070F0"/><rect x="389" width="21" height="22" fill="#D0C000"/><rect x="432" width="31" height="22" fill="#00E060"/><rect x="491" width="31" height="22" fill="#FFE000"/><rect x="549" width="18" height="22" fill="#00F040"/><rect x="762" width="62" height="22" fill="#E850E0"/><rect x="905" width="79" height="22" fill="#C080F8"/><rect x="1008" width="12" height="22" fill="#6040D0"/><rect x="1037" width="48" height="22" fill="#00C800"/><rect x="1120" width="21" height="22" fill="#3040C0"/><rect x="1182" width="80" height="22" fill="#E868D8"/><rect x="1449" width="76" height="22" fill="#FFC800"/><rect x="1855" width="115" height="22" fill="#FFFFFF"/><rect x="2224" width="21" height="22" fill="#8020D8"/><rect x="2263" width="17" height="22" fill="#FFA050"/><rect x="2305" width="28" height="22" fill="#FF0050"/><rect x="2348" width="12" height="22" fill="#FF7070"/><rect x="2415" width="42" height="22" fill="#FF6050"/><rect x="2543" width="8" height="22" fill="#FF6000"/><rect x="2578" width="39" height="22" fill="#1A6AF0"/><rect x="2663" width="30" height="22" fill="#FF10E0"/><rect x="2721" width="24" height="22" fill="#FF6050"/><rect x="2751" width="56" height="22" fill="#F03880"/><rect x="2860" width="7" height="22" fill="#0070E0"/><rect x="2883" width="27" height="22" fill="#7070E0"/><rect x="2923" width="27" height="22" fill="#FF10D0"/><rect x="3007" width="13" height="22" fill="#E8A050"/><rect x="3040" width="18" height="22" fill="#0058E0"/><rect x="3069" width="8" height="22" fill="#FF9820"/><rect x="3125" width="24" height="22" fill="#F070D8"/><rect x="3214" width="22" height="22" fill="#FFA060"/>
</g>
<g transform="translate(0,1395)">
<rect x="23" width="23" height="21" fill="#2850E0"/><rect x="172" width="91" height="21" fill="#50D000"/><rect x="302" width="87" height="21" fill="#00F040"/><rect x="409" width="22" height="21" fill="#D020E0"/><rect x="462" width="28" height="21" fill="#00E060"/><rect x="522" width="25" height="21" fill="#00D870"/><rect x="571" width="191" height="21" fill="#00C800"/><rect x="824" width="81" height="21" fill="#2D6BE5"/><rect x="984" width="24" height="21" fill="#00D890"/><rect x="1019" width="18" height="21" fill="#0050FF"/><rect x="1085" width="34" height="21" fill="#C8C850"/><rect x="1142" width="17" height="21" fill="#00F040"/><rect x="1264" width="165" height="21" fill="#00F0D8"/><rect x="1543" width="35" height="21" fill="#FF1070"/><rect x="1809" width="15" height="21" fill="#FFFFFF"/><rect x="1982" width="10" height="21" fill="#FFC000"/><rect x="2247" width="16" height="21" fill="#1880F0"/><rect x="2279" width="18" height="21" fill="#FF8070"/><rect x="2332" width="17" height="21" fill="#F060C0"/><rect x="2352" width="54" height="21" fill="#00E0C0"/><rect x="2456" width="19" height="21" fill="#B0D040"/><rect x="2518" width="26" height="21" fill="#FF4010"/><rect x="2558" width="18" height="21" fill="#F050E0"/><rect x="2617" width="47" height="21" fill="#A8D000"/><rect x="2693" width="28" height="21" fill="#F06860"/><rect x="2800" width="59" height="21" fill="#FF1890"/><rect x="2869" width="15" height="21" fill="#FF3050"/><rect x="2911" width="11" height="21" fill="#00E090"/><rect x="2953" width="56" height="21" fill="#00E000"/><rect x="3024" width="17" height="21" fill="#F06070"/><rect x="3058" width="10" height="21" fill="#FF80A0"/><rect x="3079" width="30" height="21" fill="#00C8F0"/><rect x="3201" width="11" height="21" fill="#00F000"/><rect x="3236" width="24" height="21" fill="#00D8F8"/>
</g>
<g transform="translate(0,1438)">
<rect x="1593" width="40" height="22" fill="#FFFFFF"/><rect x="1746" width="57" height="22" fill="#00F000"/><rect x="2012" width="28" height="22" fill="#00D8A0"/><rect x="2069" width="80" height="22" fill="#0080D0"/><rect x="2480" width="35" height="22" fill="#6800E8"/><rect x="3186" width="14" height="22" fill="#FF50D0"/>
</g>
<g transform="translate(0,1467)">
<rect x="1694" width="52" height="22" fill="#00F070"/><rect x="2149" width="66" height="22" fill="#2020F0"/><rect x="3155" width="31" height="22" fill="#E0B000"/>
</g>
</g>
<g id="Neutron" class="gn">
<text class="lbl" x="23" y="1566">Neutron</text>
<rect class="rulbg" x="20" y="1633" width="2606" height="22"/><rect class="rul" x="20" y="1633" width="2606" height="22"/>
<g transform="translate(0,1582)">
<rect x="45" width="125" height="22" fill="#6A6AF0"/><rect x="260" width="51" height="22" fill="#F878E8"/><rect x="393" width="12" height="22" fill="#00E860"/><rect x="423" width="24" height="22" fill="#D020E0"/><rect x="477" width="29" height="22" fill="#00E060"/><rect x="538" width="45" height="22" fill="#FF28A8"/><rect x="586" width="192" height="22" fill="#00C800"/><rect x="839" width="82" height="22" fill="#2D6BE5"/><rect x="999" width="25" height="22" fill="#00D890"/><rect x="1034" width="17" height="22" fill="#0050FF"/><rect x="1101" width="17" height="22" fill="#00F040"/><rect x="1234" width="15" height="22" fill="#D8C800"/><rect x="1317" width="13" height="22" fill="#4020E0"/><rect x="1521" width="15" height="22" fill="#1880F0"/><rect x="1553" width="18" height="22" fill="#FF8070"/><rect x="1607" width="16" height="22" fill="#F060C0"/><rect x="1635" width="54" height="22" fill="#00E0C0"/><rect x="1728" width="18" height="22" fill="#FF10E0"/><rect x="1767" width="110" height="22" fill="#FF6A00"/><rect x="1892" width="66" height="22" fill="#00D098"/><rect x="2014" width="23" height="22" fill="#00C868"/><rect x="2095" width="95" height="22" fill="#FF5098"/><rect x="2215" width="10" height="22" fill="#00D000"/><rect x="2247" width="28" height="22" fill="#2050F0"/><rect x="2305" width="12" height="22" fill="#00F040"/><rect x="2326" width="14" height="22" fill="#F000D0"/><rect x="2393" width="33" height="22" fill="#2898E0"/><rect x="2581" width="18" height="22" fill="#00E8E8"/>
</g>
<g transform="translate(0,1612)">
<rect x="23" width="23" height="21" fill="#2850E0"/><rect x="170" width="91" height="21" fill="#50D000"/><rect x="311" width="83" height="21" fill="#FF8820"/><rect x="405" width="19" height="21" fill="#00A0F0"/><rect x="447" width="31" height="21" fill="#00E060"/><rect x="506" width="31" height="21" fill="#FFE000"/><rect x="537" width="25" height="21" fill="#00E060"/><rect x="777" width="62" height="21" fill="#E850E0"/><rect x="921" width="77" height="21" fill="#C080F8"/><rect x="1024" width="11" height="21" fill="#6040D0"/><rect x="1051" width="49" height="21" fill="#00C800"/><rect x="1128" width="15" height="21" fill="#6020D0"/><rect x="1498" width="20" height="21" fill="#8020D8"/><rect x="1538" width="15" height="21" fill="#FFA050"/><rect x="1579" width="27" height="21" fill="#FF0050"/><rect x="1622" width="12" height="21" fill="#FF7070"/><rect x="1689" width="40" height="21" fill="#FF6050"/><rect x="1747" width="20" height="21" fill="#A0F040"/><rect x="1877" width="14" height="21" fill="#00C800"/><rect x="1959" width="55" height="21" fill="#00D060"/><rect x="2038" width="60" height="21" fill="#B8D000"/><rect x="2190" width="24" height="21" fill="#FF1870"/><rect x="2229" width="15" height="21" fill="#00F060"/><rect x="2273" width="27" height="21" fill="#F860D0"/><rect x="2314" width="12" height="21" fill="#FF50D0"/><rect x="2339" width="42" height="21" fill="#F020B0"/><rect x="2430" width="32" height="21" fill="#00C0F0"/><rect x="2598" width="25" height="21" fill="#00D8F8"/>
</g>
<g transform="translate(0,1655)">
<rect x="1144" width="14" height="22" fill="#0048D8"/><rect x="1187" width="13" height="22" fill="#0060E0"/><rect x="1417" width="68" height="22" fill="#2020F0"/><rect x="2472" width="30" height="22" fill="#E0B000"/>
</g>
<g transform="translate(0,1684)">
<rect x="1162" width="19" height="22" fill="#8080FF"/><rect x="1215" width="9" height="22" fill="#FF0090"/><rect x="1283" width="29" height="22" fill="#00D8A0"/><rect x="1337" width="80" height="22" fill="#0080D0"/><rect x="2507" width="15" height="22" fill="#1838D8"/>
</g>
</g>
</svg>
